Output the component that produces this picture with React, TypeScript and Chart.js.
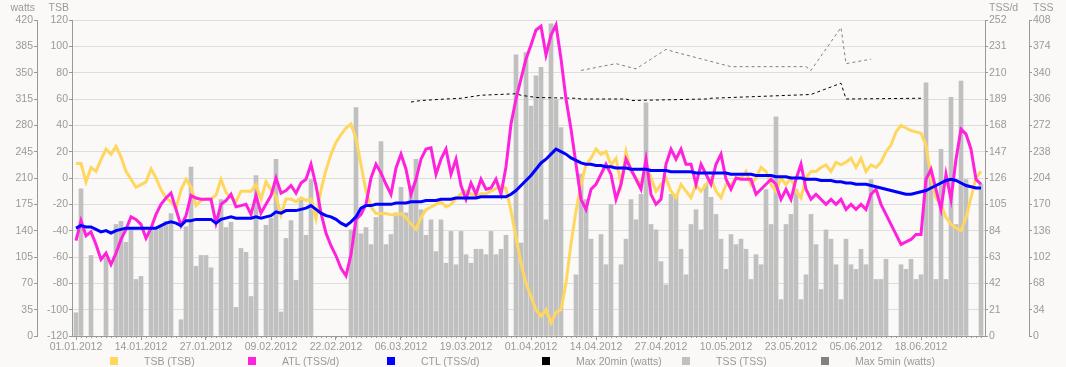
import React, { useEffect, useRef } from "react";
import { Chart, registerables } from "chart.js";
Chart.register(...registerables);

// ---- data ----
const xTickDays = [0, 13, 26, 39, 52, 65, 78, 91, 104, 117, 130, 143, 156, 169];
const xTickLabels = ["01.01.2012", "14.01.2012", "27.01.2012", "09.02.2012", "22.02.2012", "06.03.2012", "19.03.2012", "01.04.2012", "14.04.2012", "27.04.2012", "10.05.2012", "23.05.2012", "05.06.2012", "18.06.2012"];

const N = null;
// TSS per day (TSS axis)
const tss = [
  30, 190, N, 104, N, N, 101, N, 144, 148, 121, 140, 73, 77, N, 137, 137, 141, 148, 158,
  N, 21, 141, 218, 90, 104, 104, 88, N, 176, 140, 147, 37, 113, 108, 51, 207, N, 143, 152,
  228, 31, 126, 149, 72, 176, 130, 202, N, N, N, N, N, N, N, 137, 295, 132, 140, 118,
  153, 251, 118, 131, 159, 192, 159, 194, 228, 163, 130, 150, 109, 150, 94, 135, 92, 135, 105, 94,
  112, 112, 105, 135, 105, 112, 130, N, 363, 120, 366, 297, 336, 347, 150, 403, 305, 269, N, N,
  79, 209, 176, 125, N, 131, 92, 170, N, 92, 125, 176, 150, 183, 301, 144, 137, 96, 66, 183,
  183, 112, 79, 144, 163, 137, 196, 179, 157, 125, 86, 131, 118, 125, 112, 73, 105, 92, 189, 144,
  283, 47, 144, 157, 189, 47, 79, 157, 118, 60, 137, 125, 92, 47, 125, 92, 86, 112, 92, 202,
  73, 73, 99, N, N, 92, 86, 99, 73, 79, 327, 205, 73, 241, 73, 308, 144, 329, 202, N,
  N, 196
];
// ATL (TSS/d)
const atl = [
  76, 92, 80, 83, 73, 61, 66, 57, 66, 77, 85, 95, 93, 89, 78, 86, 97, 105, 110, 114,
  101, 88, 96, 112, 110, 109, 109, 109, 90, 105, 108, 113, 103, 104, 105, 97, 112, 98, 105, 112,
  126, 114, 116, 120, 114, 122, 125, 137, 120, 98, 82, 72, 64, 54, 48, 65, 93, 97, 105, 126,
  137, 130, 121, 113, 134, 145, 133, 113, 125, 141, 149, 150, 129, 141, 149, 129, 141, 120, 109, 122,
  113, 125, 117, 118, 125, 113, 135, 169, 189, 205, 221, 232, 244, 247, 224, 240, 248, 221, 189, 165,
  137, 109, 101, 117, 121, 129, 137, 129, 109, 121, 141, 133, 125, 117, 141, 113, 105, 109, 137, 149,
  141, 149, 137, 137, 121, 137, 129, 121, 137, 145, 125, 117, 126, 125, 125, 125, 113, 117, 121, 125,
  121, 109, 117, 109, 125, 137, 117, 109, 113, 109, 105, 109, 105, 109, 101, 105, 101, 105, 101, 113,
  117, 105, 97, 89, 81, 73, 75, 77, 81, 81, 125, 133, 117, 101, 129, 109, 141, 165, 161, 149,
  125, 121
];
// CTL (TSS/d)
const ctl = [
  86, 88, 87, 87, 85, 83, 84, 82, 84, 85, 86, 86, 86, 86, 86, 86, 86, 88, 90, 91,
  90, 88, 92, 92, 93, 93, 93, 93, 90, 93, 94, 95, 94, 94, 94, 94, 95, 94, 95, 96,
  99, 98, 100, 100, 100, 101, 102, 104, 101, 98, 96, 95, 93, 90, 88, 91, 95, 102, 104, 104,
  105, 105, 105, 105, 106, 106, 106, 107, 107, 107, 108, 108, 108, 109, 109, 109, 110, 110, 110, 110,
  110, 111, 111, 111, 111, 111, 111, 113, 116, 120, 124, 128, 133, 138, 141, 145, 149, 147, 145, 142,
  140, 138, 137, 137, 136, 136, 135, 135, 134, 134, 134, 133, 133, 133, 133, 132, 132, 132, 132, 131,
  131, 131, 131, 131, 130, 130, 130, 130, 130, 130, 130, 129, 129, 129, 129, 129, 128, 128, 128, 128,
  127, 127, 127, 126, 126, 126, 125, 125, 125, 124, 124, 124, 123, 123, 122, 122, 121, 121, 121, 120,
  119, 118, 117, 116, 115, 114, 113, 113, 114, 115, 116, 118, 120, 122, 124, 125, 124, 122, 120, 119,
  118, 118
];
// TSB
const tsb = [
  11, 11, -3, 8, 5, 14, 22, 18, 24, 16, 5, -1, -7, -5, -3, 7, 0, -9, -15, -18,
  -23, -9, -1, -7, -21, -17, -16, -16, -13, -1, -11, -15, -18, -10, -10, -10, -5, -16, -3, -9,
  -14, -28, -16, -16, -18, -15, -17, -16, -31, -9, 6, 18, 27, 33, 38, 41, 30, 10, -10, -22,
  -27, -27, -27, -28, -28, -27, -30, -35, -39, -30, -24, -22, -20, -18, -22, -20, -16, -12, -10, -12,
  -14, -12, -12, -10, -8, -6, -8, -25, -45, -65, -80, -90, -100, -105, -100, -110, -102, -100, -80, -50,
  -25, -5, 10, 15, 22, 18, 20, 10, 15, -5, 20, 5, 0, -5, 10, 0, -10, -5, 0, -10,
  -15, -5, -10, -15, -5, -10, -5, 0, -10, -15, -5, -5, 0, 0, 5, -5, 0, 8, 5, -5,
  -10, 0, -5, 0, -10, -15, 0, 5, 5, 8, 10, 5, 12, 10, 12, 15, 8, 15, 5, 10,
  8, 12, 20, 25, 35, 40, 38, 36, 35, 34, 25, 0, -15, -20, -30, -35, -38, -40, -30, -15,
  0, 5
];
// Max 20min (watts), sparse days
const max20Days = [67, 69, 74, 77, 81, 88, 89, 92, 100, 101, 110, 111, 126, 127, 143, 147, 153, 154, 169];
const max20Watts = [311, 313, 315, 316, 320, 322, 320, 317, 316, 315, 315, 313, 315, 316, 320, 321, 336, 315, 316];
// Max 5min (watts), sparse days
const max5Days = [101, 108, 112, 118, 120, 131, 146, 147, 153, 154, 159];
const max5Watts = [353, 362, 355, 381, 377, 358, 358, 353, 410, 362, 368];

const legendItems = [
  { label: "TSB (TSB)", color: "#FFD75E", left: 110 },
  { label: "ATL (TSS/d)", color: "#FF22DD", left: 248 },
  { label: "CTL (TSS/d)", color: "#0000FF", left: 387 },
  { label: "Max 20min (watts)", color: "#000000", left: 542 },
  { label: "TSS (TSS)", color: "#C0C0C0", left: 682 },
  { label: "Max 5min (watts)", color: "#808080", left: 821 },
];

const FONT_FAMILY = "'Liberation Sans', Arial, sans-serif";
const FONT_SIZE = 10.5;
const TEXT = "#999999";
const BG = "#FAF9F7";

const pts = (arr: (number | null)[]) => arr.map((v, i) => ({ x: i, y: v }));

const extras = {
  id: "extras",
  beforeDraw(chart: any) {
    const ctx = chart.ctx;
    ctx.save();
    ctx.fillStyle = BG;
    ctx.fillRect(0, 0, chart.width, chart.height);
    ctx.restore();
  },
  afterDraw(chart: any) {
    const ctx = chart.ctx;
    const s = chart.scales;
    ctx.save();
    ctx.font = `${FONT_SIZE}px ${FONT_FAMILY}`;
    ctx.fillStyle = TEXT;
    ctx.textBaseline = "middle";
    ctx.textAlign = "right";
    ctx.fillText("watts", s.yW.right - 2, 8);
    ctx.fillText("TSB", s.yTSB.right - 3, 8);
    ctx.textAlign = "left";
    ctx.fillText("TSS/d", s.yTSSd.left + 4, 8);
    ctx.fillText("TSS", s.yTSS.left + 4, 8);
    // minor day ticks
    const xs = s.x;
    const b = chart.chartArea.bottom;
    ctx.strokeStyle = "#999999";
    ctx.lineWidth = 1;
    ctx.beginPath();
    for (let i = 0; i < tss.length; i++) {
      const px = Math.round(xs.getPixelForValue(i)) + 0.5;
      ctx.moveTo(px, b);
      ctx.lineTo(px, b + 2);
    }
    ctx.stroke();
    ctx.restore();
  },
};

export default function App() {
  const ref = useRef<HTMLCanvasElement | null>(null);
  useEffect(() => {
    if (!ref.current) return;
    const font = { family: FONT_FAMILY, size: FONT_SIZE };
    const yCommon = (pos: string, min: number, max: number, step: number, weight: number, width: number, grid: boolean) => ({
      type: "linear",
      position: pos,
      min,
      max,
      weight,
      afterFit: (sc: any) => {
        sc.width = width;
      },
      ticks: { stepSize: step, autoSkip: false, color: TEXT, font, padding: 1 },
      grid: {
        display: true,
        drawOnChartArea: grid,
        drawTicks: true,
        tickLength: 3,
        color: "#DDDDDD",
        tickColor: "#999999",
      },
      border: { display: true, color: "#999999", width: 1 },
    });
    const chart = new Chart(ref.current, {
      type: "bar",
      data: {
        datasets: [
          { type: "line", label: "TSB (TSB)", data: pts(tsb), yAxisID: "yTSB", borderColor: "#FFD75E", backgroundColor: "#FFD75E", borderWidth: 3, pointRadius: 0, tension: 0, order: 3 },
          { type: "line", label: "ATL (TSS/d)", data: pts(atl), yAxisID: "yTSSd", borderColor: "#FF22DD", backgroundColor: "#FF22DD", borderWidth: 3, pointRadius: 0, tension: 0, order: 2 },
          { type: "line", label: "CTL (TSS/d)", data: pts(ctl), yAxisID: "yTSSd", borderColor: "#0000FF", backgroundColor: "#0000FF", borderWidth: 3, pointRadius: 0, tension: 0, order: 1 },
          { type: "line", label: "Max 20min (watts)", data: max20Days.map((d, i) => ({ x: d, y: max20Watts[i] })), yAxisID: "yW", borderColor: "#000000", borderWidth: 1, borderDash: [3, 3], pointRadius: 0, tension: 0, order: 4 },
          { type: "bar", label: "TSS (TSS)", data: pts(tss), yAxisID: "yTSS", backgroundColor: "#C0C0C0", barThickness: 4, order: 10 },
          { type: "line", label: "Max 5min (watts)", data: max5Days.map((d, i) => ({ x: d, y: max5Watts[i] })), yAxisID: "yW", borderColor: "#808080", borderWidth: 1, borderDash: [3, 3], pointRadius: 0, tension: 0, order: 5 },
        ],
      } as any,
      options: {
        animation: false,
        responsive: false,
        maintainAspectRatio: false,
        devicePixelRatio: 1,
        layout: { padding: { top: 20, bottom: 15, left: 0, right: 0 } },
        plugins: { legend: { display: false }, tooltip: { enabled: false } },
        scales: {
          x: {
            type: "linear",
            min: -0.8,
            max: 181.8,
            offset: false,
            afterBuildTicks: (sc: any) => {
              sc.ticks = xTickDays.map((v) => ({ value: v }));
            },
            afterFit: (sc: any) => {
              sc.height = 16;
            },
            ticks: {
              autoSkip: false,
              maxRotation: 0,
              color: TEXT,
              font,
              padding: 1,
              callback: (v: any) => {
                const k = xTickDays.indexOf(Math.round(Number(v)));
                return k >= 0 ? xTickLabels[k] : "";
              },
            },
            grid: { display: true, offset: false, drawOnChartArea: false, drawTicks: true, tickLength: 4, tickColor: "#999999" },
            border: { display: true, color: "#999999", width: 1 },
          },
          yW: yCommon("left", 0, 420, 35, 2, 37, false),
          yTSB: yCommon("left", -120, 120, 20, 1, 35, true),
          yTSSd: yCommon("right", 0, 252, 21, 1, 44, false),
          yTSS: yCommon("right", 0, 408, 34, 2, 37, false),
        } as any,
      },
      plugins: [extras],
    });
    return () => chart.destroy();
  }, []);

  return (
    <div style={{ position: "absolute", left: 0, top: 0, width: 1066, height: 367, background: BG, overflow: "hidden" }}>
      <canvas ref={ref} width={1066} height={367} style={{ display: "block", width: 1066, height: 367 }} />
      {legendItems.map((it) => (
        <div key={it.label} style={{ position: "absolute", left: it.left, top: 357, height: 8, display: "flex", alignItems: "center" }}>
          <div style={{ width: 8, height: 8, background: it.color }} />
          <div style={{ marginLeft: 26, fontFamily: FONT_FAMILY, fontSize: FONT_SIZE, color: TEXT, whiteSpace: "nowrap", lineHeight: "8px" }}>{it.label}</div>
        </div>
      ))}
    </div>
  );
}
